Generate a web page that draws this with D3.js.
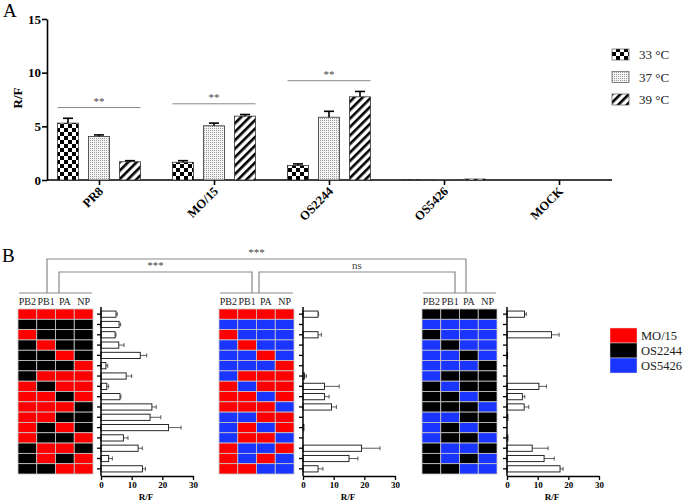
<!DOCTYPE html>
<html><head><meta charset="utf-8">
<script src="https://cdn.jsdelivr.net/npm/d3@7/dist/d3.min.js"></script>
<style>body{margin:0;background:#fff}svg{display:block}text{font-family:"Liberation Serif","Times New Roman",serif}</style>
</head><body>
<svg id="c" width="696" height="501"></svg>
<script>
// ---------- Panel A data ----------
const categoriesA = ["PR8","MO/15","OS2244","OS5426","MOCK"];
const temps = ["33 °C","37 °C","39 °C"];
const values33 = [5.3, 1.65, 1.35, 0.03, 0];
const values37 = [4.05, 5.05, 5.85, 0.05, 0];
const values39 = [1.7, 5.95, 7.75, 0.1, 0];
const err33 = [0.45, 0.15, 0.15, 0, 0];
const err37 = [0.15, 0.25, 0.55, 0, 0];
const err39 = [0.1, 0.15, 0.5, 0, 0];
const sigCats = ["PR8","MO/15","OS2244"];
const sigLabels = ["**","**","**"];
const yTicksA = [0,5,10,15];

// ---------- Panel B data ----------
const genes = ["PB2","PB1","PA","NP"];
const strains = ["MO/15","OS2244","OS5426"];
const strainCode = {M:"MO/15", O:"OS2244", S:"OS5426"};
const hm1Rows = ["MMMM","OOOO","MOOO","OMOO","OOMO","OOOM","OMMM","MOMM","MMOM","MMMO","MMOO","MOMO","MOOM","OMMO","OMOM","OOMM"];
const hm2Rows = ["MMMM","SSSS","MSSS","SMSS","SSMS","SSSM","SMMM","MSMM","MMSM","MMMS","SSMM","SMSM","SMMS","MSSM","MSMS","MMSS"];
const hm3Rows = ["OOOO","SSSS","OSSS","SOSS","SSOS","SSSO","SOOO","OSOO","OOSO","OOOS","SSOO","SOSO","SOOS","OSSO","OSOS","OOSS"];
const hm1Vals = [4.9,5.9,4.6,5.8,12.8,1.6,8.2,1.9,6.2,16.6,16.0,22.0,7.3,12.1,2.5,13.5];
const hm1Errs = [0.4,0.5,0.3,1.7,2.1,0.6,1.8,0.6,0.3,1.4,3.5,4.1,1.5,1.4,1.2,1.0];
const hm2Vals = [4.9,0,4.9,0,0,0,0.5,7.0,7.0,9.3,0,0.3,0,19.1,15.0,4.9];
const hm2Errs = [0.2,0,1.1,0,0,0,0.6,4.8,1.5,1.6,0,0,0,6.0,2.9,1.6];
const hm3Vals = [5.7,0,14.5,0,0.2,0,0,10.4,5.0,5.6,0.3,0,0.3,8.2,12.1,17.3];
const hm3Errs = [0.6,0,2.5,0,0,0,0,2.5,0.8,1.5,0,0,0,5.2,3.3,1.0];
const xTicksB = [0,10,20,30];
const compLabels = ["***","***","ns"];

// ---------- drawing ----------
const svg = d3.select("#c");
const defs = svg.append("defs");
const pc = defs.append("pattern").attr("id","pChk").attr("patternUnits","userSpaceOnUse").attr("width",8).attr("height",8);
pc.append("rect").attr("width",8).attr("height",8).attr("fill","#fff");
pc.append("rect").attr("width",4).attr("height",4).attr("fill","#000");
pc.append("rect").attr("x",4).attr("y",4).attr("width",4).attr("height",4).attr("fill","#000");
const pd = defs.append("pattern").attr("id","pDot").attr("patternUnits","userSpaceOnUse").attr("width",2).attr("height",2);
pd.append("rect").attr("width",2).attr("height",2).attr("fill","#f4f4f4");
pd.append("rect").attr("width",1).attr("height",1).attr("fill","#9a9a9a");
const ps = defs.append("pattern").attr("id","pStr").attr("patternUnits","userSpaceOnUse").attr("width",6).attr("height",6).attr("patternTransform","rotate(45)");
ps.append("rect").attr("width",6).attr("height",6).attr("fill","#fff");
ps.append("rect").attr("width",2.6).attr("height",6).attr("fill","#000");
const fills = ["url(#pChk)","url(#pDot)","url(#pStr)"];

// Panel A
const gA = svg.append("g");
const yA = d3.scaleLinear().domain([0,15]).range([180,19]);
const xA = d3.scalePoint().domain(categoriesA).range([99,559]);
const offs = d3.scalePoint().domain(temps).range([-31,31]);
const barW = 21;
const vals = [values33, values37, values39];
const errs = [err33, err37, err39];

gA.append("text").attr("x",3).attr("y",17).attr("font-size",19).text("A");

const yAxA = gA.append("g").attr("transform","translate(47,0)")
  .call(d3.axisLeft(yA).tickValues(yTicksA).tickSize(5).tickSizeOuter(0));
yAxA.select(".domain").attr("stroke","#000").attr("stroke-width",1.6);
yAxA.selectAll(".tick line").attr("stroke","#000").attr("stroke-width",1.6);
yAxA.selectAll(".tick text").attr("font-family",null).attr("font-size",13).attr("font-weight","bold").attr("fill","#000").attr("x",-6);

const xAxA = gA.append("g").attr("transform","translate(0,180)")
  .call(d3.axisBottom(xA).tickSize(5).tickSizeOuter(0).tickFormat(""));
xAxA.select(".domain").remove();
xAxA.selectAll(".tick line").attr("stroke","#000").attr("stroke-width",1.6);
gA.append("line").attr("x1",47).attr("x2",612).attr("y1",180).attr("y2",180).attr("stroke","#000").attr("stroke-width",1.6);
// rotated category labels
const c45 = Math.SQRT1_2;
gA.selectAll("g.xl").data(categoriesA).join("g").attr("class","xl")
  .attr("transform",d=>`matrix(${c45},${-c45},${c45},${c45},${xA(d)+5},${192})`)
  .append("text").attr("text-anchor","end")
  .attr("font-size",12.5).attr("font-weight","bold").attr("fill","#000")
  .text(d=>d);

gA.append("text").attr("transform","translate(22,98) rotate(-90)").attr("text-anchor","middle")
  .attr("font-size",13).attr("font-weight","bold").text("R/F");

temps.forEach((t,i)=>{
  const g = gA.append("g");
  g.selectAll("rect").data(categoriesA).join("rect")
    .attr("x",(c)=>xA(c)+offs(t)-barW/2)
    .attr("width",barW)
    .attr("y",(c,j)=>yA(vals[i][j]))
    .attr("height",(c,j)=>yA(0)-yA(vals[i][j]))
    .attr("fill",fills[i]).attr("stroke","#333").attr("stroke-width",(c,j)=>vals[i][j]>0.5?0.8:0.5);
  categoriesA.forEach((c,j)=>{
    if(errs[i][j]>0){
      const cx = xA(c)+offs(t);
      const y1 = yA(vals[i][j]), y2 = yA(vals[i][j]+errs[i][j]);
      g.append("line").attr("x1",cx).attr("x2",cx).attr("y1",y1).attr("y2",y2).attr("stroke","#000").attr("stroke-width",1.6);
      g.append("line").attr("x1",cx-5).attr("x2",cx+5).attr("y1",y2).attr("y2",y2).attr("stroke","#000").attr("stroke-width",1.6);
    }
  });
});

sigCats.forEach((c,k)=>{
  const j = categoriesA.indexOf(c);
  const top = d3.max([0,1,2],i=>vals[i][j]+errs[i][j]) + 1.0;
  const x1 = xA(c)+offs(temps[0])-barW/2, x2 = xA(c)+offs(temps[2])+barW/2;
  gA.append("line").attr("x1",x1).attr("x2",x2).attr("y1",yA(top)).attr("y2",yA(top)).attr("stroke","#888").attr("stroke-width",1);
  gA.append("text").attr("x",(x1+x2)/2).attr("y",yA(top)-3).attr("text-anchor","middle")
    .attr("font-size",11).attr("fill","#444").text(sigLabels[k]);
});

temps.forEach((t,i)=>{
  const y = 49 + i*22.5;
  gA.append("rect").attr("x",612).attr("y",y).attr("width",17).attr("height",11).attr("fill",fills[i]).attr("stroke","#555").attr("stroke-width",0.7);
  gA.append("text").attr("x",639).attr("y",y+10).attr("font-size",13).attr("fill","#222").text(t);
});

// Panel B
const gB = svg.append("g");
gB.append("text").attr("x",2).attr("y",262).attr("font-size",19).text("B");
const colors = {"MO/15":"#ff0000","OS2244":"#000000","OS5426":"#1a35ff"};
const rowIdx = d3.range(16);
const yB = d3.scaleBand().domain(rowIdx).range([309,474]);
const panels = [
  {hx:18, bx:101, rows:hm1Rows, v:hm1Vals, e:hm1Errs},
  {hx:219, bx:303, rows:hm2Rows, v:hm2Vals, e:hm2Errs},
  {hx:422, bx:507, rows:hm3Rows, v:hm3Vals, e:hm3Errs}
];
panels.forEach(p=>{
  const g = gB.append("g");
  const xg = d3.scaleBand().domain(genes).range([p.hx,p.hx+75]);
  g.append("line").attr("x1",p.hx+1).attr("x2",p.hx+74).attr("y1",293).attr("y2",293).attr("stroke","#888").attr("stroke-width",1.2);
  g.selectAll("text.gl").data(genes).join("text").attr("class","gl")
    .attr("x",d=>xg(d)+xg.bandwidth()/2).attr("y",305).attr("text-anchor","middle")
    .attr("font-size",10).attr("fill","#222").text(d=>d);
  p.rows.forEach((r,ri)=>{
    genes.forEach((gname,gi)=>{
      g.append("rect").attr("x",xg(gname)).attr("y",yB(ri)).attr("width",xg.bandwidth()).attr("height",yB.bandwidth())
        .attr("fill",colors[strainCode[r[gi]]]).attr("stroke","#c8c8c8").attr("stroke-width",0.8);
    });
  });
  const xb = d3.scaleLinear().domain([0,30]).range([p.bx,p.bx+92]);
  const bh = 6.2;
  rowIdx.forEach(i=>{
    const cy = yB(i)+yB.bandwidth()/2;
    if(p.v[i]>0){
      g.append("rect").attr("x",xb(0)).attr("y",cy-bh/2).attr("width",xb(p.v[i])-xb(0)).attr("height",bh)
        .attr("fill","#fff").attr("stroke","#111").attr("stroke-width",0.9);
    }
    if(p.e[i]>0){
      const x1 = xb(p.v[i]), x2 = xb(p.v[i]+p.e[i]);
      g.append("line").attr("x1",x1).attr("x2",x2).attr("y1",cy).attr("y2",cy).attr("stroke","#333").attr("stroke-width",0.8);
      g.append("line").attr("x1",x2).attr("x2",x2).attr("y1",cy-2).attr("y2",cy+2).attr("stroke","#333").attr("stroke-width",0.8);
    }
  });
  const ya = g.append("g").attr("transform",`translate(${p.bx},0)`)
    .call(d3.axisLeft(yB).tickSize(4).tickFormat(""));
  ya.select(".domain").remove();
  ya.selectAll(".tick line").attr("stroke","#000").attr("stroke-width",1.3);
  g.append("line").attr("x1",p.bx).attr("x2",p.bx).attr("y1",307).attr("y2",476).attr("stroke","#000").attr("stroke-width",1.5);
  const xa = g.append("g").attr("transform","translate(0,476)")
    .call(d3.axisBottom(xb).tickValues(xTicksB).tickSize(4).tickSizeOuter(0));
  xa.select(".domain").attr("stroke","#000").attr("stroke-width",1.5);
  xa.selectAll(".tick line").attr("stroke","#000").attr("stroke-width",1.3);
  xa.selectAll(".tick text").attr("font-family",null).attr("font-size",9).attr("font-weight","bold").attr("fill","#000").attr("y",6);
  g.append("text").attr("x",p.bx+45).attr("y",500).attr("text-anchor","middle")
    .attr("font-size",9).attr("font-weight","bold").text("R/F");
});

const brackets = [
  {x1:47, x2:466, y:259, lab:compLabels[0]},
  {x1:59, x2:252, y:272, lab:compLabels[1]},
  {x1:259, x2:455, y:272, lab:compLabels[2]}
];
brackets.forEach(b=>{
  gB.append("path").attr("d",`M${b.x1},293V${b.y}H${b.x2}V293`).attr("fill","none").attr("stroke","#888").attr("stroke-width",1.2);
  gB.append("text").attr("x",(b.x1+b.x2)/2).attr("y",b.y-3).attr("text-anchor","middle")
    .attr("font-size",11).attr("fill","#444").text(b.lab);
});

strains.forEach((s,i)=>{
  const y = 328 + i*15;
  gB.append("rect").attr("x",610).attr("y",y).attr("width",27).attr("height",15).attr("fill",colors[s]).attr("stroke","#ddd").attr("stroke-width",0.5);
  gB.append("text").attr("x",641).attr("y",y+12).attr("font-size",12.5).attr("fill","#222").text(s);
});
</script>
</body></html>
